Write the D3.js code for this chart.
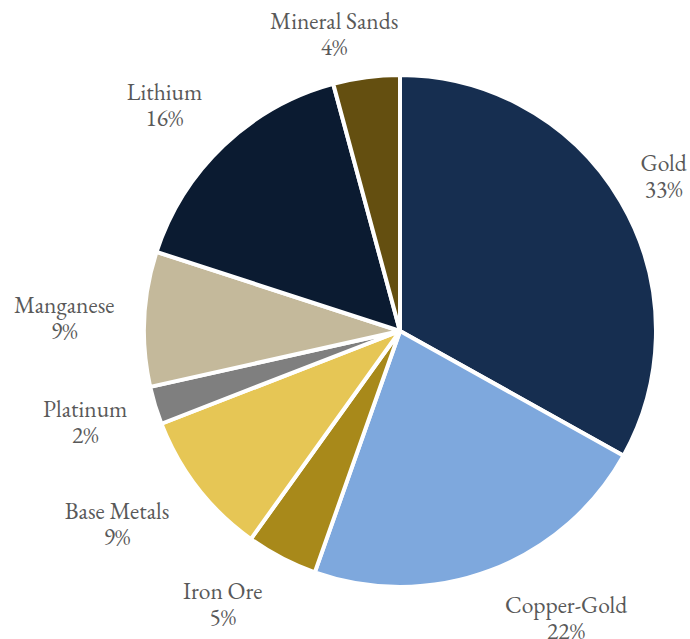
<!DOCTYPE html>
<html>
<head>
<meta charset="utf-8">
<script src="https://cdn.jsdelivr.net/npm/d3@7"></script>
<style>
  html, body { margin: 0; padding: 0; background: #fff; }
  svg { display: block; }
</style>
</head>
<body>
<svg id="chart" width="690" height="639"></svg>
<script>
// ---- data ----
const categories = ["Gold", "Copper-Gold", "Iron Ore", "Base Metals", "Platinum", "Manganese", "Lithium", "Mineral Sands"];
const values = [33.1, 22.3, 4.5, 9.2, 2.4, 8.5, 15.8, 4.2];
const colors = ["#162e50", "#7ea8dd", "#a8891a", "#e6c655", "#7f7f7f", "#c4b99b", "#0b1b31", "#644f10"];
// label layout (polar, relative to slice mid-angle): angle shift (deg), distance from centre
const labelShift = [0.2, -9.3, 5.4, 3.4, 0.6, -0.7, -2.7, -5.0];
const labelRadius = [305, 332, 326, 343, 328, 336, 326, 303];

const W = 690, H = 639;
const cx = 400, cy = 331, R = 256;
const svg = d3.select("#chart");
const g = svg.append("g").attr("transform", `translate(${cx},${cy})`);

const total = d3.sum(values);
const rows = categories.map((c, i) => ({ name: c, value: values[i], color: colors[i], i }));
const pie = d3.pie().sort(null).value(d => d.value).startAngle(0).endAngle(2 * Math.PI);
const arcs = pie(rows);
const arc = d3.arc().innerRadius(0).outerRadius(R);

g.selectAll("path.slice").data(arcs).join("path")
  .attr("class", "slice")
  .attr("d", arc)
  .attr("fill", d => d.data.color)
  .attr("stroke", "#ffffff")
  .attr("stroke-width", 4)
  .attr("stroke-linejoin", "round");

const pct = v => Math.round(+(v * 100 / total).toFixed(6)) + "%";
const fontFamily = "'EB Garamond', Garamond, 'Liberation Serif', 'DejaVu Serif', serif";
const labels = g.selectAll("g.lbl").data(arcs).join("g").attr("class", "lbl")
  .attr("transform", d => {
    const mid = (d.startAngle + d.endAngle) / 2 + labelShift[d.data.i] * Math.PI / 180;
    const r = labelRadius[d.data.i];
    const x = Math.sin(mid) * r, y = -Math.cos(mid) * r;
    return `translate(${x},${y})`;
  });
labels.append("text")
  .attr("text-anchor", "middle")
  .attr("font-family", fontFamily)
  .attr("font-size", 23.5)
  .attr("fill", "#595959")
  .selectAll("tspan")
  .data(d => [d.data.name, pct(d.data.value)])
  .join("tspan")
  .attr("x", 0)
  .attr("y", (t, k) => k === 0 ? -6 : 20)
  .text(t => t);
</script>
</body>
</html>
